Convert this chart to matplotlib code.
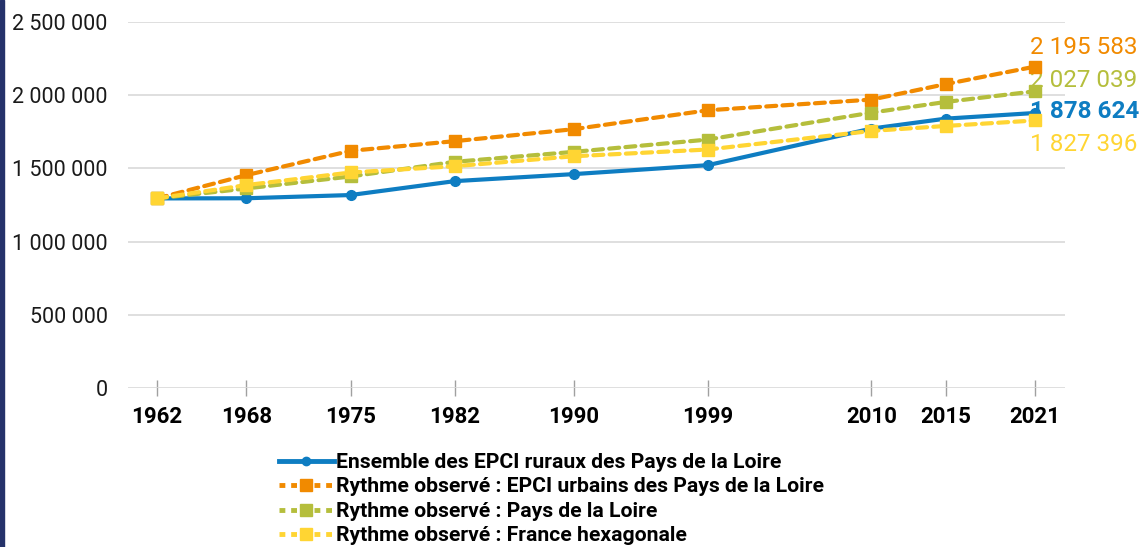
import matplotlib
matplotlib.use('Agg')
from matplotlib import pyplot as plt
from matplotlib.lines import Line2D
from matplotlib.patches import Rectangle
from matplotlib.ticker import FuncFormatter

plt.rcParams['font.family'] = ['Roboto', 'DejaVu Sans']

# données
annees = [1962, 1968, 1975, 1982, 1990, 1999, 2010, 2015, 2021]
ruraux = [1295000, 1296000, 1318000, 1413000, 1461000, 1522000, 1772000, 1840000, 1878624]
urbains = [1295000, 1454000, 1620000, 1686000, 1768000, 1897000, 1970000, 2076000, 2195583]
pdl = [1295000, 1363000, 1445000, 1545000, 1613000, 1697000, 1881000, 1954000, 2027039]
france = [1295000, 1386000, 1472000, 1515000, 1583000, 1629000, 1756000, 1790000, 1827396]

etiquettes_fin = ['2 195 583', '2 027 039', '1 878 624', '1 827 396']

noms = ['Ensemble des EPCI ruraux des Pays de la Loire',
        'Rythme observé : EPCI urbains des Pays de la Loire',
        'Rythme observé : Pays de la Loire',
        'Rythme observé : France hexagonale']

bleu = '#0E7DC2'
orange = '#F18A00'
vert = '#B5BE3C'
jaune = '#FFD533'

fig = plt.figure(figsize=(11.45, 5.47), dpi=100)
W, H = 1145, 547
ax = fig.add_axes([128 / W, (H - 388) / H, (1065 - 128) / W, 366 / H])

# bande bleu foncé à gauche
fig.patches.append(Rectangle((0, 0), 3.5 / W, 1, transform=fig.transFigure,
                             color='#25326A', zorder=10))

ax.plot(annees, ruraux, color=bleu, lw=3, marker='o', ms=7, zorder=3)
styles = [(urbains, orange), (pdl, vert), (france, jaune)]
for serie, c in styles:
    ax.plot(annees, serie, color=c, lw=3, ls=(0, (2.4, 1.5)), dash_capstyle='round',
            marker='s', ms=8.5, zorder=4)

ax.set_xlim(1960.05, 2023.0)
ax.set_ylim(0, 2500000)
ax.set_yticks(range(0, 2500001, 500000))
ax.yaxis.set_major_formatter(FuncFormatter(lambda v, p: f'{int(v):,}'.replace(',', ' ')))
ax.set_xticks(annees)
ax.set_xticklabels([str(a) for a in annees], fontweight='bold', fontsize=16)
ax.tick_params(axis='y', length=0, pad=14.5, labelsize=15.5, labelcolor='#1a1a1a')
ax.tick_params(axis='x', direction='inout', length=12, width=1, color='#a0a0a0', pad=7)
ax.grid(axis='y', color='#d9d9d9', lw=1.2)
ax.set_axisbelow(True)
for s in ax.spines.values():
    s.set_visible(False)

# étiquettes des valeurs 2021
couleurs_fin = [orange, vert, bleu, jaune]
valeurs_fin = [urbains[-1], pdl[-1], ruraux[-1], france[-1]]
decalages = [14, 7.5, 1, -17]
for txt, v, c, dy in zip(etiquettes_fin, valeurs_fin, couleurs_fin, decalages):
    ax.annotate(txt, (annees[-1], v), xytext=(-4, dy), textcoords='offset points',
                ha='left', va='center', color=c, fontsize=17.5,
                fontweight='bold' if c == bleu else 'normal',
                annotation_clip=False)

handles = [Line2D([], [], color=bleu, lw=3.5, marker='o', ms=6)]
for serie, c in styles:
    handles.append(Line2D([], [], color=c, lw=3.5, ls=(0, (1.2, 1.2)), marker='s', ms=8))
fig.legend(handles, noms, loc='upper left', bbox_to_anchor=(279 / W, 1 - 453 / H),
           frameon=False, prop={'weight': 'bold', 'size': 15.2},
           handlelength=2.6, handletextpad=0.1, labelspacing=0.26, borderpad=0,
           borderaxespad=0)

plt.savefig('out.png', dpi=100)
